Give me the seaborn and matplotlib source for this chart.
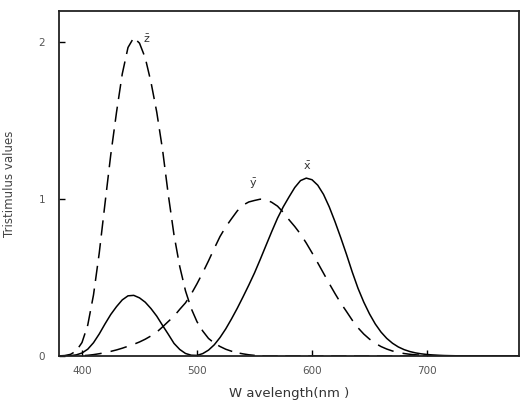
import numpy as np
import pandas as pd
import matplotlib
matplotlib.use("Agg")
import matplotlib.pyplot as plt
import seaborn as sns

# wavelengths (nm), 5 nm steps 380..780
wavelength = np.arange(380, 785, 5)

x_bar = [0.0002, 0.0007, 0.0024, 0.0072, 0.0191, 0.0434, 0.0847, 0.1406, 0.2045, 0.2647,
         0.3147, 0.3577, 0.3837, 0.3867, 0.3707, 0.3430, 0.3023, 0.2541, 0.1956, 0.1390,
         0.0805, 0.0417, 0.0162, 0.0051, 0.0038, 0.0154, 0.0375, 0.0714, 0.1177, 0.1730,
         0.2365, 0.3042, 0.3768, 0.4516, 0.5298, 0.6161, 0.7052, 0.7938, 0.8787, 0.9512,
         1.0142, 1.0743, 1.1185, 1.1343, 1.1240, 1.0891, 1.0305, 0.9507, 0.8563, 0.7544,
         0.6475, 0.5351, 0.4316, 0.3437, 0.2683, 0.2043, 0.1526, 0.1122, 0.0813, 0.0579,
         0.0409, 0.0286, 0.0199, 0.0138, 0.0096, 0.0066, 0.0046, 0.0031, 0.0022, 0.0015,
         0.0010, 0.0007, 0.0005, 0.0004, 0.0003, 0.0002, 0.0001, 0.0001, 0.0001, 0.0000,
         0.0000]

y_bar = [0.0000, 0.0001, 0.0003, 0.0008, 0.0020, 0.0045, 0.0088, 0.0145, 0.0214, 0.0295,
         0.0387, 0.0497, 0.0621, 0.0747, 0.0895, 0.1072, 0.1282, 0.1523, 0.1852, 0.2199,
         0.2536, 0.2977, 0.3391, 0.3954, 0.4608, 0.5314, 0.6067, 0.6857, 0.7618, 0.8233,
         0.8752, 0.9252, 0.9620, 0.9822, 0.9918, 1.0000, 0.9973, 0.9799, 0.9556, 0.9161,
         0.8689, 0.8256, 0.7774, 0.7204, 0.6583, 0.5939, 0.5280, 0.4618, 0.3981, 0.3374,
         0.2835, 0.2283, 0.1798, 0.1401, 0.1076, 0.0812, 0.0603, 0.0443, 0.0318, 0.0228,
         0.0159, 0.0111, 0.0077, 0.0054, 0.0037, 0.0026, 0.0018, 0.0012, 0.0008, 0.0006,
         0.0004, 0.0003, 0.0002, 0.0001, 0.0001, 0.0001, 0.0000, 0.0000, 0.0000, 0.0000,
         0.0000]

z_bar = [0.0007, 0.0029, 0.0105, 0.0323, 0.0860, 0.1971, 0.3894, 0.6568, 0.9725, 1.2825,
         1.5535, 1.7985, 1.9673, 2.0300, 1.9948, 1.9007, 1.7454, 1.5549, 1.3176, 1.0302,
         0.7721, 0.5701, 0.4153, 0.3024, 0.2185, 0.1592, 0.1120, 0.0822, 0.0607, 0.0431,
         0.0305, 0.0206, 0.0137, 0.0079, 0.0040, 0.0011, 0.0000, 0.0000, 0.0000, 0.0000,
         0.0000, 0.0000, 0.0000, 0.0000, 0.0000, 0.0000, 0.0000, 0.0000, 0.0000, 0.0000,
         0.0000, 0.0000, 0.0000, 0.0000, 0.0000, 0.0000, 0.0000, 0.0000, 0.0000, 0.0000,
         0.0000, 0.0000, 0.0000, 0.0000, 0.0000, 0.0000, 0.0000, 0.0000, 0.0000, 0.0000,
         0.0000, 0.0000, 0.0000, 0.0000, 0.0000, 0.0000, 0.0000, 0.0000, 0.0000, 0.0000,
         0.0000]

x_ticks = [400, 500, 600, 700]
y_ticks = [0, 1, 2]

# curve labels: (text, wavelength, value)
curve_labels = [(r"$\bar{\mathrm{z}}$", 456, 2.02),
                (r"$\bar{\mathrm{y}}$", 549, 1.10),
                (r"$\bar{\mathrm{x}}$", 596, 1.21)]

df = pd.DataFrame({"wavelength": np.tile(wavelength, 3),
                   "value": x_bar + y_bar + z_bar,
                   "curve": ["x"] * len(wavelength) + ["y"] * len(wavelength) + ["z"] * len(wavelength)})

sns.set_style("ticks")
plt.rcParams["font.family"] = ["DejaVu Sans"]
plt.rcParams["mathtext.fontset"] = "dejavusans"

fig = plt.figure(figsize=(5.23, 4.04), dpi=100)
ax = fig.add_axes([0.1128, 0.1188, 0.8796, 0.854])

sns.lineplot(data=df, x="wavelength", y="value", style="curve",
             dashes={"x": "", "y": (11, 6), "z": (10, 5)},
             color="black", linewidth=1.1, legend=False, ax=ax)

for txt, lx, ly in curve_labels:
    ax.text(lx, ly, txt, fontsize=8, color="#333333", ha="center", va="center")

ax.set_xlim(380, 780)
ax.set_ylim(0, 2.2)
ax.set_xticks(x_ticks)
ax.set_yticks(y_ticks)
ax.tick_params(direction="in", length=4, width=1, colors="black", labelcolor="#555555",
               labelsize=7.5)
ax.tick_params(axis="x", pad=7)
ax.tick_params(axis="y", pad=10)
for s in ax.spines.values():
    s.set_linewidth(1.3)
    s.set_color("#222222")

ax.set_xlabel("W avelength(nm )", fontsize=9.5, color="#333333", labelpad=8)
ax.set_ylabel("Tristimulus values", fontsize=8.5, color="#444444", labelpad=16)

fig.savefig("out.png", dpi=100)
